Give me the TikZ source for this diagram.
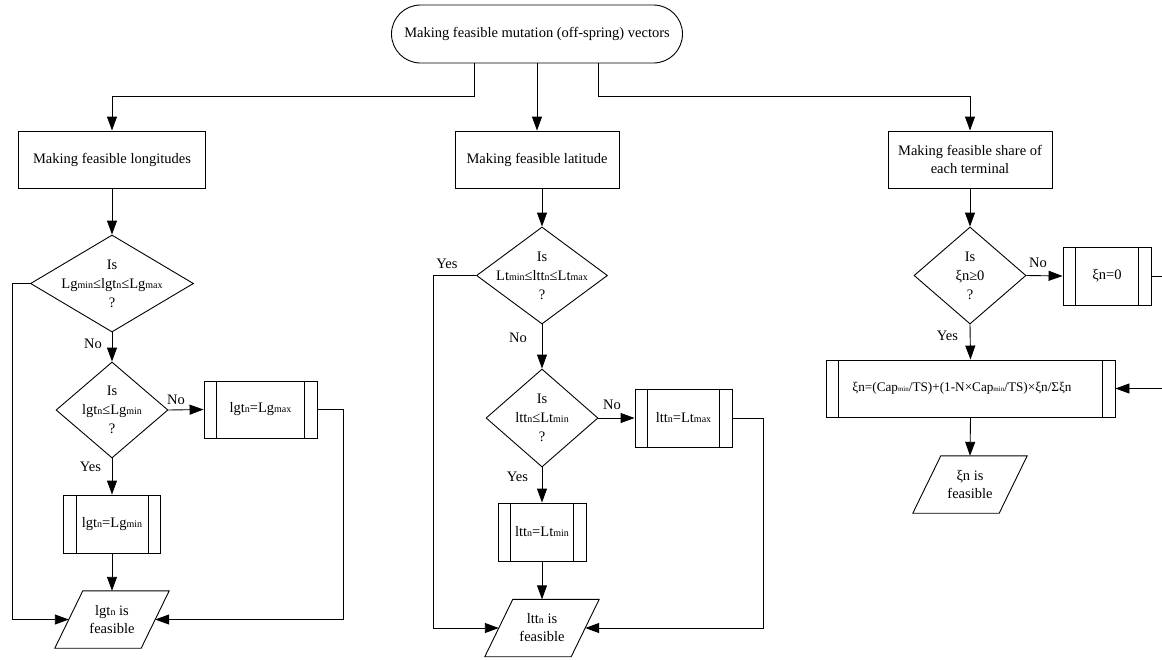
\documentclass[tikz,border=0pt]{standalone}
\usepackage{fontspec}
\setmainfont{Liberation Serif}
\usetikzlibrary{shapes.geometric,arrows.meta}
\newcommand\sm[1]{{\fontsize{10}{10}\selectfont #1}}
\newcommand\tn[1]{{\fontsize{7}{7}\selectfont #1}}
\begin{document}
\begin{tikzpicture}[x=1pt,y=-1pt,
  every node/.style={font=\fontsize{14.5}{18}\selectfont, inner sep=0pt},
  base/.style={draw, line width=0.9pt},
  term/.style={base, rectangle, rounded corners=29pt, minimum width=291pt, minimum height=58pt},
  procbox/.style={base, rectangle, align=center},
  pdef/.style={base, rectangle, path picture={
      \draw[line width=0.9pt] ([xshift=12.5pt]path picture bounding box.north west) -- ([xshift=12.5pt]path picture bounding box.south west);
      \draw[line width=0.9pt] ([xshift=-12.5pt]path picture bounding box.north east) -- ([xshift=-12.5pt]path picture bounding box.south east);}},
  dec/.style={base, diamond},
  dtext/.style={align=center, font=\fontsize{14.5}{19}\selectfont},
  io/.style={rectangle, align=center, minimum width=86pt, minimum height=57pt,
    append after command={\pgfextra{\draw[line width=0.9pt]
      ([xshift=14pt]\tikzlastnode.north west) -- ([xshift=14pt]\tikzlastnode.north east) --
      ([xshift=-14pt]\tikzlastnode.south east) -- ([xshift=-14pt]\tikzlastnode.south west) -- cycle;}}},
  arr/.style={line width=0.9pt, -{Triangle[length=14pt,width=10pt]}}
]
\path[use as bounding box, clip] (0,0) rectangle (1162,659);

% top
\node[term] (top) at (537,34) {Making feasible mutation (off-spring) vectors};
\node[procbox, minimum width=187pt, minimum height=57pt] (b1) at (112,159.5) {Making feasible longitudes};
\node[procbox, minimum width=164pt, minimum height=57pt] (b2) at (537,159.5) {Making feasible latitude};
\node[procbox, minimum width=164pt, minimum height=57pt] (b3) at (970,159.5) {Making feasible share of\\each terminal};
\coordinate (tL) at (474,96);
\coordinate (tR) at (598,96);

% column 1
\node[dec, minimum width=163pt, minimum height=97pt, label={[dtext]center:{Is\\Lg\sm{min}≤lgt\sm{n}≤Lg\sm{max}\\?}}] (d1) at (112,283.5) {};
\node[dec, minimum width=112pt, minimum height=96pt, label={[dtext]center:{Is\\lgt\sm{n}≤Lg\sm{min}\\?}}] (d2) at (112,410) {};
\node[pdef, minimum width=113pt, minimum height=57pt] (gmax) at (260.5,409.5) {lgt\sm{n}=Lg\sm{max}};
\node[pdef, minimum width=97pt, minimum height=58pt] (gmin) at (112,524) {lgt\sm{n}=Lg\sm{min}};
\node[io] (p1) at (112,619.5) {lgt\sm{n} is\\feasible};
\coordinate (cL1) at (12,619.5);
\coordinate (cR1) at (343,619.5);

% column 2
\node[dec, minimum width=131pt, minimum height=97pt, label={[dtext]center:{Is\\Lt\sm{min}≤ltt\sm{n}≤Lt\sm{max}\\?}}] (d3) at (542,275.5) {};
\node[dec, minimum width=112pt, minimum height=98pt, label={[dtext]center:{Is\\ltt\sm{n}≤Lt\sm{min}\\?}}] (d4) at (542,418) {};
\node[pdef, minimum width=97pt, minimum height=58pt] (tmax) at (683.5,418) {ltt\sm{n}=Lt\sm{max}};
\node[pdef, minimum width=88pt, minimum height=58pt] (tmin) at (542,532) {ltt\sm{n}=Lt\sm{min}};
\node[io] (p2) at (542,628) {ltt\sm{n} is\\feasible};
\coordinate (cL2) at (433,628);
\coordinate (cR2) at (763,628);

% column 3
\node[dec, minimum width=112pt, minimum height=97pt, label={[dtext]center:{Is\\ξn≥0\\?}}] (d5) at (970,275.5) {};
\node[pdef, minimum width=88pt, minimum height=58pt] (z0) at (1107,276) {ξn=0};
\node[pdef, minimum width=289pt, minimum height=57pt, font=\fontsize{13.2}{16}\selectfont] (big) at (970.5,388.5) {\hspace*{-17pt}ξn=(Cap\tn{min}/TS)+(1-N×Cap\tn{min}/TS)×ξn/Σξn};
\node[io] (p3) at (970,484.5) {ξn is\\feasible};
\coordinate (cR3) at (1185,330);

% labels
\node (n1) at (93,344) {No};
\node (n2) at (176,400) {No};
\node (y2) at (90.5,467) {Yes};
\node (y3) at (447,264) {Yes};
\node (n3) at (518,338) {No};
\node (n4) at (612,405) {No};
\node (y4) at (517.5,477) {Yes};
\node (n5) at (1038,263) {No};
\node (y5) at (947.5,336) {Yes};

% connectors
\draw[arr] (top.south -| tL) -- (tL) -| (b1.north);
\draw[arr] (top.south) -- (b2.north);
\draw[arr] (top.south -| tR) -- (tR) -| (b3.north);

\draw[arr] (b1.south) -- (d1.north);
\draw[arr] (d1.south) -- (d2.north);
\draw[arr] (d1.west) -| (cL1) -- (p1);
\draw[arr] (d2.east) -- (gmax.west);
\draw[arr] (d2.south) -- (gmin.north);
\draw[arr] (gmin.south) -- (p1.north);
\draw[arr] (gmax.east) -| (cR1) -- (p1);

\draw[arr] (b2.south -| d3.north) -- (d3.north);
\draw[arr] (d3.south) -- (d4.north);
\draw[arr] (d3.west) -| (cL2) -- (p2);
\draw[arr] (d4.east) -- (tmax.west);
\draw[arr] (d4.south) -- (tmin.north);
\draw[arr] (tmin.south) -- (p2.north);
\draw[arr] (tmax.east) -| (cR2) -- (p2);

\draw[arr] (b3.south) -- (d5.north);
\draw[arr] (d5.east) -- (z0.west);
\draw[arr] (d5.south) -- (big.north);
\draw[arr] (big.south) -- (p3.north);
\draw[arr] (z0.east) -| (cR3) |- (big.east);
\end{tikzpicture}
\end{document}
